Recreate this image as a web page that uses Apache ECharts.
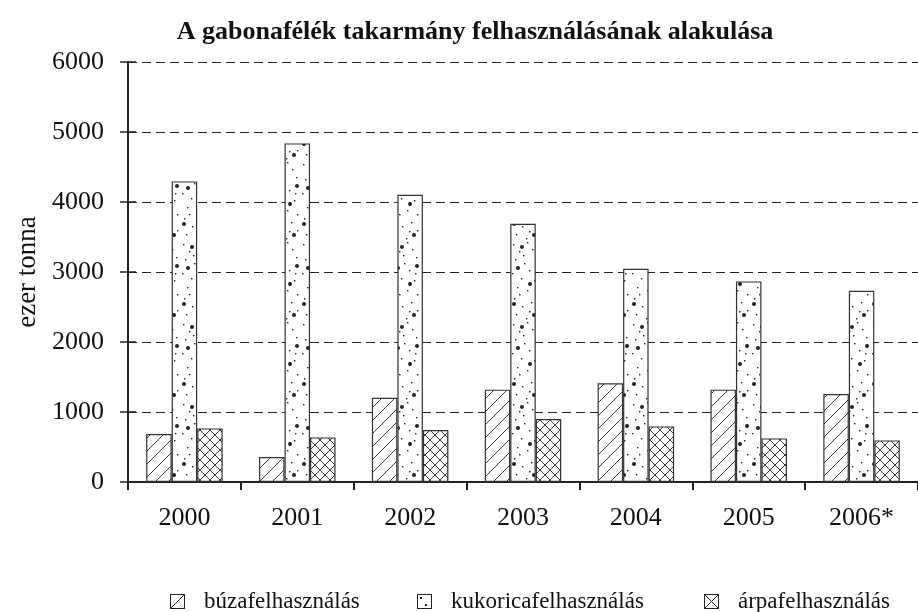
<!DOCTYPE html>
<html>
<head>
<meta charset="utf-8">
<script src="https://cdn.jsdelivr.net/npm/echarts@6/dist/echarts.min.js"></script>
<style>
  html, body { margin: 0; padding: 0; background: #fff; }
  #chart { width: 918px; height: 612px; }
</style>
</head>
<body>
<div id="chart"></div>
<script>
// adatok
const years = ['2000', '2001', '2002', '2003', '2004', '2005', '2006*'];
const buza = [686, 357, 1204, 1319, 1409, 1319, 1257];
const kukorica = [4294, 4837, 4104, 3690, 3047, 2866, 2733];
const arpa = [766, 637, 743, 900, 794, 623, 594];
const seriesNames = ['búzafelhasználás', 'kukoricafelhasználás', 'árpafelhasználás'];

const ink = '#222';
const serif = '"Liberation Serif", "Times New Roman", serif';

function tile(w, h, draw) {
    const c = document.createElement('canvas');
    c.width = w; c.height = h;
    const ctx = c.getContext('2d');
    ctx.fillStyle = '#fff';
    ctx.fillRect(0, 0, w, h);
    ctx.strokeStyle = ink;
    ctx.fillStyle = ink;
    ctx.lineWidth = 0.9;
    draw(ctx, w, h);
    return c;
}

// ferde vonalak
const hatch = tile(13, 13, (ctx, w, h) => {
    ctx.beginPath();
    ctx.moveTo(-1, h + 1); ctx.lineTo(w + 1, -1);
    ctx.moveTo(-2, 2); ctx.lineTo(2, -2);
    ctx.moveTo(w - 2, h + 2); ctx.lineTo(w + 2, h - 2);
    ctx.stroke();
});
// keresztsraffozás
const cross = tile(10, 10, (ctx, w, h) => {
    ctx.beginPath();
    ctx.moveTo(-1, h + 1); ctx.lineTo(w + 1, -1);
    ctx.moveTo(-1, -1); ctx.lineTo(w + 1, h + 1);
    ctx.stroke();
});
// pontozott minta
const dotsSmall = [[3,4],[17,2],[9,11],[22,9],[5,19],[14,23],[26,17],[19,30],[2,33],[11,38],
                   [24,40],[7,47],[17,50],[27,54],[4,58],[21,62],[12,66],[27,70],[6,74],[16,78],
                   [13,15],[25,33],[9,54],[19,71]];
const dotsBig = [[12,7],[27,26],[8,28],[20,44],[4,64],[24,75]];
const dots = tile(30, 80, (ctx) => {
    dotsSmall.forEach(p => ctx.fillRect(p[0], p[1], 1.4, 1.4));
    dotsBig.forEach(p => { ctx.beginPath(); ctx.arc(p[0], p[1], 2, 0, Math.PI * 2); ctx.fill(); });
});

// jelmagyarázat ikonok
function icon(draw) {
    const c = tile(15, 15, (ctx, w, h) => {
        ctx.lineWidth = 1;
        ctx.strokeRect(0.5, 0.5, w - 1, h - 1);
        draw(ctx, w, h);
    });
    return 'image://' + c.toDataURL();
}
const iconBuza = icon((ctx, w, h) => { ctx.beginPath(); ctx.moveTo(1, h - 1); ctx.lineTo(w - 1, 1); ctx.stroke(); });
const iconKuk = icon((ctx) => { ctx.fillRect(3, 3, 2, 2); ctx.fillRect(8, 10, 2, 2); });
const iconArpa = icon((ctx, w, h) => {
    ctx.beginPath();
    ctx.moveTo(1, h - 1); ctx.lineTo(w - 1, 1);
    ctx.moveTo(1, 1); ctx.lineTo(w - 1, h - 1);
    ctx.stroke();
});

function legendAt(left, name, ic) {
    return {
        left: left, top: 585,
        itemWidth: 15, itemHeight: 15,
        data: [{ name: name, icon: ic }],
        textStyle: { fontFamily: serif, fontSize: 23, color: '#111', padding: [0, 0, 0, 14] },
        selectedMode: false
    };
}

function barSeries(name, data, pattern) {
    return {
        name: name,
        type: 'bar',
        data: data,
        barWidth: 25.5,
        barGap: '0%',
        itemStyle: {
            color: { image: pattern, repeat: 'repeat' },
            borderColor: '#333',
            borderWidth: 1.2
        },
        emphasis: { disabled: true },
        animation: false
    };
}

const chart = echarts.init(document.getElementById('chart'));
chart.setOption({
    backgroundColor: '#fff',
    animation: false,
    title: {
        text: 'A gabonafélék takarmány felhasználásának alakulása',
        left: 470, top: 14, textAlign: 'center',
        textStyle: { fontFamily: serif, fontSize: 26, fontWeight: 'bold', color: '#111' }
    },
    legend: [
        legendAt(165, seriesNames[0], iconBuza),
        legendAt(412, seriesNames[1], iconKuk),
        legendAt(699, seriesNames[2], iconArpa)
    ],
    grid: { left: 128, right: -8, top: 62, bottom: 130 },
    xAxis: {
        type: 'category',
        data: years,
        axisLine: { lineStyle: { color: ink, width: 2 } },
        axisTick: { show: true, length: 8, lineStyle: { color: ink, width: 2 } },
        axisLabel: { fontFamily: serif, fontSize: 26, color: '#111', margin: 23 }
    },
    yAxis: [
        {
            type: 'value',
            min: 0, max: 6000, interval: 1000,
            name: 'ezer tonna',
            nameLocation: 'middle',
            nameGap: 87,
            nameTextStyle: { fontFamily: serif, fontSize: 27, color: '#111' },
            axisLine: { show: true, lineStyle: { color: ink, width: 2 } },
            axisTick: { show: true, length: 8, lineStyle: { color: ink, width: 1.5 } },
            axisLabel: { fontFamily: serif, fontSize: 26, color: '#111', margin: 24, formatter: v => String(v) },
            splitLine: { show: true, lineStyle: { color: ink, type: [9, 5], width: 1 } }
        },
        {
            type: 'value',
            min: 0, max: 6000, interval: 1000,
            position: 'left',
            axisLine: { show: false },
            axisTick: { show: true, inside: true, length: 8, lineStyle: { color: ink, width: 1.5 } },
            axisLabel: { show: false },
            splitLine: { show: false }
        }
    ],
    series: [
        barSeries(seriesNames[0], buza, hatch),
        barSeries(seriesNames[1], kukorica, dots),
        barSeries(seriesNames[2], arpa, cross)
    ]
});
</script>
</body>
</html>
